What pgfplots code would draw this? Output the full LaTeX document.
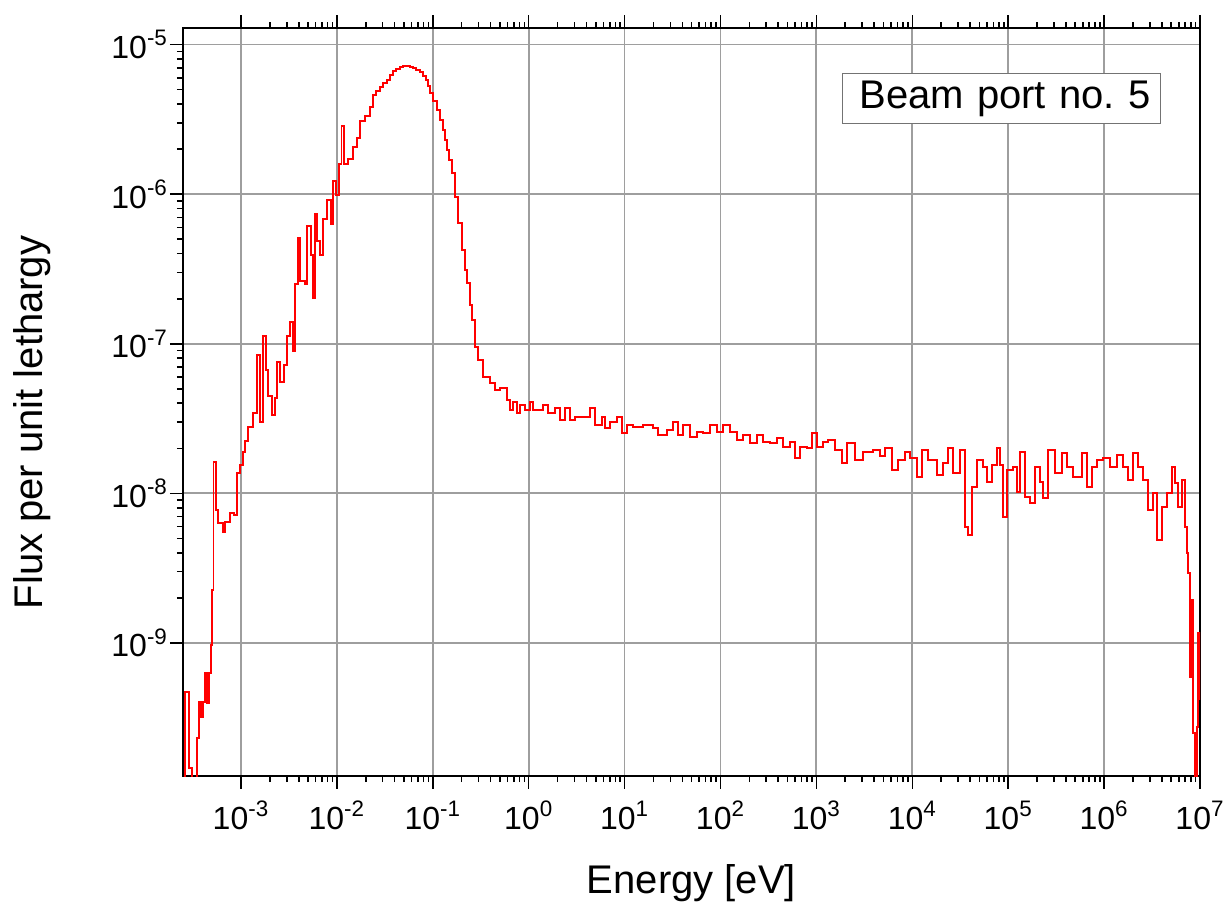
\documentclass[border=0pt]{standalone}
\usepackage{fontspec}
\setmainfont{Liberation Sans}
\usepackage{pgfplots}
\pgfplotsset{compat=1.18}
\begin{document}
\begin{tikzpicture}
\begin{axis}[
  scale only axis, width=508.5pt, height=374pt,
  xmode=log, ymode=log,
  xmin=2.485e-4, xmax=1e7, ymin=1.29e-10, ymax=1.29e-5,
  axis line style={line width=1pt},
  tick align=outside,
  xtick pos=both, ytick pos=left,
  major tick length=6.5pt, minor tick length=3pt,
  every tick/.style={black, line width=0.8pt},
  grid=major, major grid style={black!38, line width=0.9pt},
  xtick={1e-3,1e-2,1e-1,1,10,100,1000,1e4,1e5,1e6,1e7},
  xticklabels={10\textsuperscript{-3},10\textsuperscript{-2},10\textsuperscript{-1},10\textsuperscript{0},10\textsuperscript{1},10\textsuperscript{2},10\textsuperscript{3},10\textsuperscript{4},10\textsuperscript{5},10\textsuperscript{6},10\textsuperscript{7}},
  ytick={1e-9,1e-8,1e-7,1e-6,1e-5},
  yticklabels={10\textsuperscript{-9},10\textsuperscript{-8},10\textsuperscript{-7},10\textsuperscript{-6},10\textsuperscript{-5}},
  tick label style={font=\fontsize{16}{19}\selectfont},
  xticklabel style={yshift=-2.5pt},
  yticklabel style={xshift=2.5pt},
  label style={font=\fontsize{20}{24}\selectfont},
  xlabel={Energy [eV]}, ylabel={Flux per unit lethargy},
  xlabel style={at={(axis description cs:0.5,-0.1564)}, anchor=base},
  ylabel style={at={(axis description cs:-0.1377,0.4726)}, anchor=base},
]
\addplot[red, line width=0.85pt, const plot] table {
E F
2.485e-4 8.92e-11
2.61e-4 4.70e-10
2.87e-4 1.46e-10
3.08e-4 8.92e-11
3.48e-4 2.31e-10
3.65e-4 4.03e-10
3.83e-4 3.20e-10
4.02e-4 4.03e-10
4.21e-4 6.30e-10
4.42e-4 3.97e-10
4.64e-4 6.30e-10
4.87e-4 9.69e-10
4.98e-4 2.26e-9
5.17e-4 1.62e-8
5.49e-4 7.74e-9
5.76e-4 6.33e-9
6.49e-4 5.51e-9
6.81e-4 6.43e-9
7.68e-4 7.39e-9
8.45e-4 7.16e-9
9.08e-4 1.37e-8
9.76e-4 1.55e-8
1.049e-3 1.89e-8
1.101e-3 2.24e-8
1.183e-3 2.78e-8
1.334e-3 3.44e-8
1.469e-3 8.41e-8
1.578e-3 3.00e-8
1.696e-3 1.13e-7
1.823e-3 6.67e-8
1.912e-3 4.47e-8
2.105e-3 3.34e-8
2.262e-3 4.34e-8
2.373e-3 7.55e-8
2.551e-3 5.55e-8
2.808e-3 7.21e-8
3.017e-3 1.13e-7
3.243e-3 1.40e-7
3.486e-3 8.94e-8
3.657e-3 2.51e-7
3.930e-3 5.09e-7
4.124e-3 2.63e-7
4.650e-3 2.51e-7
4.878e-3 6.12e-7
5.370e-3 3.92e-7
5.634e-3 2.02e-7
5.911e-3 7.36e-7
6.20e-3 4.86e-7
6.665e-3 3.92e-7
7.163e-3 6.82e-7
7.884e-3 9.13e-7
8.680e-3 6.31e-7
9.107e-3 1.22e-6
9.788e-3 9.86e-7
1.052e-2 1.59e-6
1.117e-2 2.85e-6
1.186e-2 1.59e-6
1.306e-2 1.72e-6
1.472e-2 2.06e-6
1.620e-2 2.37e-6
1.741e-2 3.08e-6
1.964e-2 3.33e-6
2.214e-2 3.82e-6
2.379e-2 4.60e-6
2.557e-2 4.89e-6
2.815e-2 5.20e-6
3.025e-2 5.53e-6
3.331e-2 5.79e-6
3.579e-2 6.25e-6
3.847e-2 6.65e-6
4.133e-2 6.86e-6
4.551e-2 7.07e-6
4.890e-2 7.18e-6
5.383e-2 7.18e-6
5.785e-2 7.07e-6
6.217e-2 6.96e-6
6.682e-2 6.75e-6
7.354e-2 6.55e-6
7.905e-2 6.16e-6
8.497e-2 5.79e-6
8.913e-2 5.28e-6
9.352e-2 4.74e-6
0.1005 4.19e-6
0.1106 3.65e-6
0.1189 3.13e-6
0.1278 2.68e-6
0.1341 2.30e-6
0.1407 1.97e-6
0.1476 1.69e-6
0.1586 1.38e-6
0.1704 9.56e-7
0.1832 6.41e-7
0.2017 4.23e-7
0.2167 3.11e-7
0.2273 2.55e-7
0.2443 1.81e-7
0.2564 1.44e-7
0.2755 9.51e-8
0.2960 7.78e-8
0.3339 5.99e-8
0.3950 5.46e-8
0.4453 4.91e-8
0.5022 5.06e-8
0.5939 4.20e-8
0.6385 3.61e-8
0.6861 4.08e-8
0.7553 3.44e-8
0.8118 3.90e-8
0.9155 3.61e-8
1.032 4.08e-8
1.109 3.61e-8
1.410 3.90e-8
1.590 3.44e-8
1.881 3.72e-8
2.121 3.09e-8
2.391 3.72e-8
2.697 3.09e-8
3.041 3.24e-8
4.360 3.72e-8
4.917 2.86e-8
5.814 3.24e-8
6.248 2.73e-8
7.045 3.00e-8
8.334 3.24e-8
9.400 2.53e-8
10.60 2.86e-8
12.24 2.78e-8
15.56 2.86e-8
19.79 2.73e-8
22.31 2.45e-8
27.69 2.65e-8
31.98 3.00e-8
36.07 2.45e-8
40.66 2.86e-8
48.11 2.38e-8
56.91 2.57e-8
65.72 2.53e-8
77.73 2.86e-8
91.99 2.57e-8
106.2 2.86e-8
125.7 2.57e-8
148.7 2.27e-8
171.7 2.45e-8
203.2 2.17e-8
240.3 2.45e-8
277.5 2.20e-8
328.3 2.17e-8
388.6 2.34e-8
448.7 2.04e-8
530.9 2.20e-8
598.6 1.72e-8
675.0 2.04e-8
798.6 2.01e-8
900.6 2.53e-8
1015 2.04e-8
1173 2.20e-8
1322 2.27e-8
1564 1.95e-8
1850 1.59e-8
2087 2.17e-8
2528 1.67e-8
3063 1.89e-8
3895 1.95e-8
4609 1.78e-8
5197 2.01e-8
6148 1.43e-8
7101 1.67e-8
8400 1.89e-8
9470 1.72e-8
1.120e4 1.29e-8
1.263e4 1.95e-8
1.459e4 1.67e-8
1.811e4 1.33e-8
2.092e4 1.59e-8
2.358e4 2.01e-8
2.659e4 1.37e-8
3.146e4 1.95e-8
3.547e4 5.96e-9
3.812e4 5.27e-9
4.197e4 1.10e-8
4.732e4 1.67e-8
5.464e4 1.50e-8
6.015e4 1.19e-8
6.783e4 1.55e-8
7.648e4 2.01e-8
8.220e4 1.55e-8
8.836e4 6.95e-9
9.723e4 1.43e-8
1.123e5 1.50e-8
1.236e5 1.02e-8
1.328e5 1.89e-8
1.498e5 9.45e-9
1.689e5 8.62e-9
1.905e5 1.50e-8
2.148e5 1.19e-8
2.308e5 9.31e-9
2.602e5 1.95e-8
3.079e5 1.37e-8
3.643e5 1.86e-8
4.108e5 1.50e-8
4.745e5 1.29e-8
5.888e5 1.86e-8
6.640e5 1.10e-8
7.486e5 1.50e-8
8.442e5 1.67e-8
9.747e5 1.72e-8
1.153e6 1.50e-8
1.364e6 1.80e-8
1.576e6 1.50e-8
1.777e6 1.23e-8
2.004e6 1.86e-8
2.259e6 1.50e-8
2.547e6 1.23e-8
2.872e6 7.74e-9
3.239e6 1.005e-8
3.565e6 4.88e-9
4.019e6 8.10e-9
4.532e6 1.005e-8
5.111e6 1.50e-8
5.492e6 1.17e-8
5.902e6 8.10e-9
6.497e6 1.23e-8
6.982e6 5.96e-9
7.324e6 3.99e-9
7.502e6 2.93e-9
7.872e6 5.92e-10
8.260e6 1.94e-9
8.461e6 2.50e-10
8.878e6 8.92e-11
9.316e6 2.74e-10
9.541e6 1.165e-9
1e7 4.16e-10
};
\node[draw=black!55, fill=white, line width=0.6pt, anchor=north west,
  text width=149pt, align=right, inner xsep=5pt, inner ysep=0pt,
  minimum height=25pt, font=\fontsize{20}{24}\selectfont]
  at (rel axis cs:0.648,0.9398) {Beam port no.\ 5};
\coordinate (bl) at (rel axis cs:0,0);
\coordinate (tr) at (rel axis cs:1,1);
\end{axis}
\pgfresetboundingbox
\path[use as bounding box] ([xshift=-91.5pt,yshift=-66.5pt]bl) rectangle ([xshift=12pt,yshift=14pt]tr);
\end{tikzpicture}
\end{document}
